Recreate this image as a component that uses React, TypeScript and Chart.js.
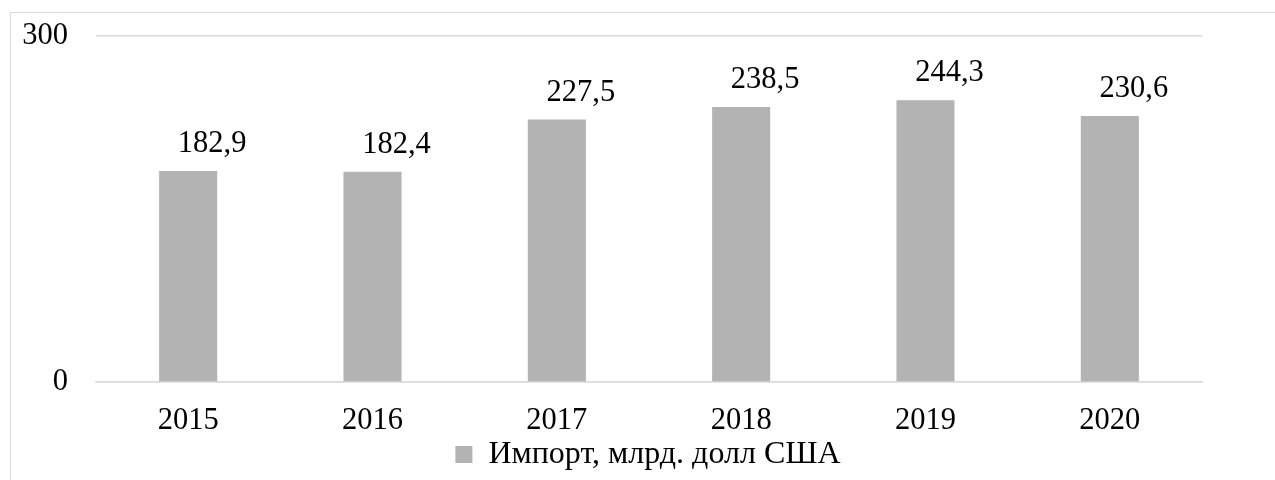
import React, { useEffect, useRef } from 'react';
import { Chart, registerables } from 'chart.js';

Chart.register(...registerables);

const years = ['2015', '2016', '2017', '2018', '2019', '2020'];
const importValues = [182.9, 182.4, 227.5, 238.5, 244.3, 230.6];
const yTickValues = [0, 300];
const seriesLabel = 'Импорт, млрд. долл США';

const FONT = "'Liberation Serif', 'Times New Roman', serif";
const FONT_SIZE = 30.5;
const LEGEND_FONT_SIZE = 32;
const LEGEND_HEIGHT = 43.5;
const LEGEND_SHIFT = 47;

const dataLabelPlugin = {
  id: 'dataLabels',
  afterDatasetsDraw(chart: any) {
    const ctx = chart.ctx;
    const meta = chart.getDatasetMeta(0);
    const data = chart.data.datasets[0].data as number[];
    ctx.save();
    ctx.font = `${FONT_SIZE}px ${FONT}`;
    ctx.fillStyle = '#000000';
    ctx.textAlign = 'center';
    ctx.textBaseline = 'alphabetic';
    meta.data.forEach((bar: any, i: number) => {
      const txt = data[i].toFixed(1).replace('.', ',');
      ctx.fillText(txt, bar.x + 24, bar.y - 19);
    });
    ctx.restore();
  },
};

const legendFixPlugin = {
  id: 'legendFix',
  beforeLayout(chart: any) {
    const l = chart.legend;
    if (l && !l._fixedFit) {
      const origFit = l.fit;
      l.fit = function (this: any) {
        origFit.call(this);
        this.height = LEGEND_HEIGHT;
      };
      l._fixedFit = true;
    }
  },
  afterLayout(chart: any) {
    const l = chart.legend;
    if (l) {
      l.left += LEGEND_SHIFT;
      l.right += LEGEND_SHIFT;
    }
  },
};

export default function App() {
  const ref = useRef<HTMLCanvasElement>(null);

  useEffect(() => {
    if (!ref.current) return;
    const chart = new Chart(ref.current, {
      type: 'bar',
      data: {
        labels: years,
        datasets: [
          {
            label: seriesLabel,
            data: importValues,
            backgroundColor: '#b3b3b3',
            borderWidth: 0,
            barPercentage: 0.315,
            categoryPercentage: 1,
          },
        ],
      },
      options: {
        responsive: false,
        animation: false,
        devicePixelRatio: 1,
        layout: { padding: { left: 0, right: 73, top: 36, bottom: 0 } },
        plugins: {
          legend: {
            position: 'bottom',
            labels: {
              boxWidth: 17,
              boxHeight: 17,
              padding: 2,
              color: '#000000',
              font: { family: FONT, size: LEGEND_FONT_SIZE },
            },
          },
          tooltip: { enabled: false },
        },
        scales: {
          x: {
            grid: { display: false, drawTicks: false },
            border: { display: true, color: '#d9d9d9', width: 1.5 },
            ticks: {
              color: '#000000',
              padding: 21,
              font: { family: FONT, size: FONT_SIZE },
            },
            afterFit(scale: any) {
              scale.height = 54.5;
              scale.paddingLeft = 0;
              scale.paddingRight = 0;
            },
          },
          y: {
            min: 0,
            max: 300,
            grid: { color: '#d9d9d9', lineWidth: 1.5, drawTicks: false },
            border: { display: false },
            ticks: {
              color: '#000000',
              padding: 28,
              font: { family: FONT, size: FONT_SIZE },
            },
            afterBuildTicks(scale: any) {
              scale.ticks = yTickValues.map((v) => ({ value: v }));
            },
            afterFit(scale: any) {
              scale.width = 96;
              scale.paddingTop = 0;
              scale.paddingBottom = 0;
            },
          },
        },
      },
      plugins: [dataLabelPlugin, legendFixPlugin],
    });
    return () => chart.destroy();
  }, []);

  return (
    <div
      style={{
        position: 'fixed',
        left: 0,
        top: 0,
        width: 1275,
        height: 480,
        overflow: 'hidden',
        background: '#ffffff',
      }}
    >
      <div
        style={{
          position: 'absolute',
          left: 10,
          top: 12,
          width: 1300,
          height: 500,
          border: '1px solid #d9d9d9',
          boxSizing: 'border-box',
        }}
      />
      <canvas
        ref={ref}
        width={1275}
        height={480}
        style={{ position: 'absolute', left: 0, top: 0, width: 1275, height: 480 }}
      />
    </div>
  );
}
